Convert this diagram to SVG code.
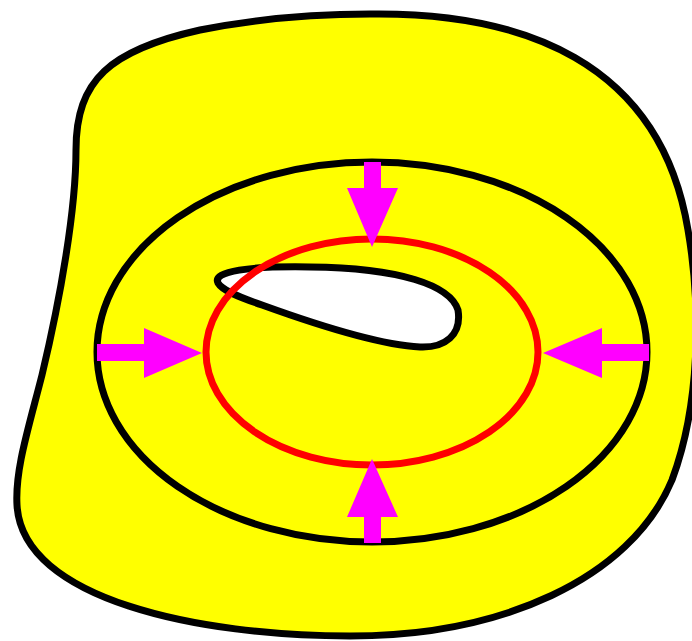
<svg xmlns="http://www.w3.org/2000/svg" width="692" height="641" viewBox="0 0 692 641">
<style>
.blob{fill:#ffff00;stroke:#000;stroke-width:7}
.hole{fill:#fff;stroke:#000;stroke-width:7}
.ring{fill:none;stroke:#000;stroke-width:7}
.red{fill:none;stroke:#ff0000;stroke-width:7}
.arr{fill:#ff00ff;stroke:none}
</style>
<rect width="692" height="641" fill="#fff"/>
<g id="surface">
<path class="blob" d="M 370 14 C 520 12 660 60 688 230 C 700 300 702 400 672 480 C 630 580 500 636 350 636 C 200 636 22 600 17 505 C 15 470 28 430 42 375 C 60 300 76 210 76 150 C 76 80 110 50 200 30 C 260 18 320 14 370 14 Z"/>
</g>
<g id="hole">
<path class="hole" d="M 218 283 C 212 271 250 266 310 267 C 400 268 450 285 458 310 C 462 335 445 348 420 347 C 380 345 320 326 262 305 C 236 296 222 290 218 283 Z"/>
</g>
<g id="outer-loop">
<ellipse class="ring" cx="372" cy="352" rx="275" ry="190"/>
</g>
<g id="inner-loop">
<ellipse class="red" cx="372" cy="352" rx="166" ry="113"/>
</g>
<g id="connectors">
<path class="arr" d="M 364 162 H 381 V 188 H 398 L 372 247 L 347 188 H 364 Z"/>
<path class="arr" d="M 364 543 H 381 V 517 H 398 L 372 459 L 347 517 H 364 Z"/>
<path class="arr" d="M 97 344 V 361 H 144 V 378 L 202 353 L 144 328 V 344 Z"/>
<path class="arr" d="M 649 344 V 361 H 602 V 378 L 543 353 L 602 328 V 344 Z"/>
</g>
</svg>
